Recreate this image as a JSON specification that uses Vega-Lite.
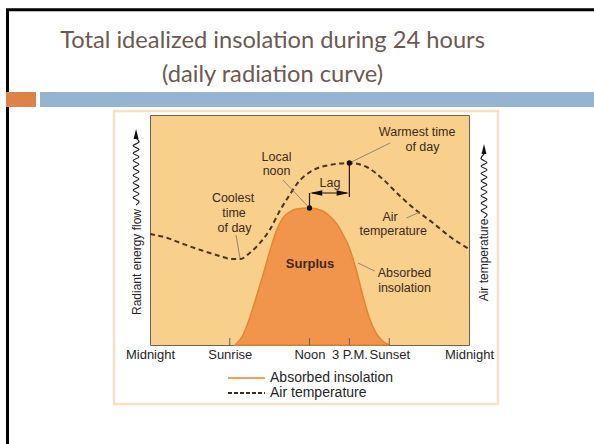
{
  "$schema": "https://vega.github.io/schema/vega-lite/v6.json",
  "width": 319,
  "height": 230,
  "autosize": "none",
  "padding": {"left": 150, "top": 115, "right": 125, "bottom": 99},
  "background": "white",
  "config": {
    "view": {"fill": "#f9cf8c", "stroke": "#6e6050", "strokeWidth": 1},
    "text": {"font": "Liberation Sans"}
  },
  "datasets": {
    "temperature": [
      {"hour": 0, "value": 111}, {"hour": 1.3, "value": 107}, {"hour": 2.5, "value": 101},
      {"hour": 3.8, "value": 95}, {"hour": 5.0, "value": 90}, {"hour": 6.2, "value": 86},
      {"hour": 6.8, "value": 86}, {"hour": 7.5, "value": 92}, {"hour": 8.2, "value": 101},
      {"hour": 9.0, "value": 115}, {"hour": 9.8, "value": 135}, {"hour": 10.5, "value": 150},
      {"hour": 11.05, "value": 161}, {"hour": 12.3, "value": 175}, {"hour": 13.5, "value": 180},
      {"hour": 15, "value": 182}, {"hour": 16.3, "value": 178}, {"hour": 17.5, "value": 166},
      {"hour": 18.8, "value": 149}, {"hour": 20, "value": 135}, {"hour": 21.3, "value": 122},
      {"hour": 22.6, "value": 108}, {"hour": 24, "value": 96}
    ],
    "insolation": [
      {"hour": 6.4, "value": 0}, {"hour": 7.0, "value": 10}, {"hour": 7.5, "value": 27},
      {"hour": 8.0, "value": 48}, {"hour": 8.5, "value": 70}, {"hour": 9.0, "value": 93},
      {"hour": 9.5, "value": 114}, {"hour": 10.0, "value": 127}, {"hour": 10.5, "value": 133},
      {"hour": 11.0, "value": 136}, {"hour": 12.0, "value": 137}, {"hour": 13.0, "value": 134},
      {"hour": 13.5, "value": 129}, {"hour": 14.0, "value": 122}, {"hour": 14.5, "value": 111},
      {"hour": 15.0, "value": 97}, {"hour": 15.5, "value": 76}, {"hour": 16.0, "value": 50},
      {"hour": 16.5, "value": 27}, {"hour": 17.0, "value": 12}, {"hour": 17.5, "value": 4},
      {"hour": 18.0, "value": 0}
    ],
    "frame": [
      {"hour": -10.72, "hour2": -10.72, "value": 335.3, "value2": -120},
      {"hour": -10.83, "hour2": 36, "value": 335.3, "value2": 335.3}
    ],
    "orangeBar": [{"hour": -10.835, "hour2": -8.578, "value": 238, "value2": 253}],
    "blueBar": [{"hour": -8.277, "hour2": 36, "value": 238, "value2": 253}],
    "figureBox": [{"hour": -2.71, "hour2": 26.18, "value": 234, "value2": -59}],
    "ticks": [
      {"hour": 6, "value": 0, "value2": 7}, {"hour": 12, "value": 0, "value2": 7},
      {"hour": 15, "value": 0, "value2": 7}, {"hour": 18, "value": 0, "value2": 7}
    ],
    "leaders": [
      {"hour": 15, "value": 182, "hour2": 18.06, "value2": 202},
      {"hour": 10.0, "value": 165, "hour2": 12, "value2": 137},
      {"hour": 6.47, "value": 110, "hour2": 6.77, "value2": 87},
      {"hour": 19.3, "value": 127, "hour2": 20.3, "value2": 133},
      {"hour": 15.65, "value": 82, "hour2": 16.9, "value2": 74}
    ],
    "lagLines": [
      {"hour": 12, "value": 137, "hour2": 12, "value2": 152},
      {"hour": 15, "value": 182, "hour2": 15, "value2": 148},
      {"hour": 12.2, "value": 152, "hour2": 14.8, "value2": 152}
    ],
    "lagLeft": [{"hour": 12.5, "value": 152}],
    "lagRight": [{"hour": 14.5, "value": 152}],
    "dots": [{"hour": 12, "value": 137}, {"hour": 15, "value": 182}],
    "waves": [
      {"side": "left", "hour": -1.05, "value": 140}, {"side": "left", "hour": -0.83, "value": 143.7},
      {"side": "left", "hour": -1.27, "value": 147.4}, {"side": "left", "hour": -0.83, "value": 151.1},
      {"side": "left", "hour": -1.27, "value": 154.8}, {"side": "left", "hour": -0.83, "value": 158.5},
      {"side": "left", "hour": -1.27, "value": 162.2}, {"side": "left", "hour": -0.83, "value": 165.9},
      {"side": "left", "hour": -1.27, "value": 169.6}, {"side": "left", "hour": -0.83, "value": 173.3},
      {"side": "left", "hour": -1.27, "value": 177}, {"side": "left", "hour": -0.83, "value": 180.7},
      {"side": "left", "hour": -1.27, "value": 184.4}, {"side": "left", "hour": -0.83, "value": 188.1},
      {"side": "left", "hour": -1.27, "value": 191.8}, {"side": "left", "hour": -0.83, "value": 195.5},
      {"side": "left", "hour": -1.27, "value": 199.2}, {"side": "left", "hour": -0.83, "value": 202.9},
      {"side": "left", "hour": -1.05, "value": 207},
      {"side": "right", "hour": 25.13, "value": 127}, {"side": "right", "hour": 25.35, "value": 130.7},
      {"side": "right", "hour": 24.91, "value": 134.4}, {"side": "right", "hour": 25.35, "value": 138.1},
      {"side": "right", "hour": 24.91, "value": 141.8}, {"side": "right", "hour": 25.35, "value": 145.5},
      {"side": "right", "hour": 24.91, "value": 149.2}, {"side": "right", "hour": 25.35, "value": 152.9},
      {"side": "right", "hour": 24.91, "value": 156.6}, {"side": "right", "hour": 25.35, "value": 160.3},
      {"side": "right", "hour": 24.91, "value": 164}, {"side": "right", "hour": 25.35, "value": 167.7},
      {"side": "right", "hour": 24.91, "value": 171.4}, {"side": "right", "hour": 25.35, "value": 175.1},
      {"side": "right", "hour": 24.91, "value": 178.8}, {"side": "right", "hour": 25.35, "value": 182.5},
      {"side": "right", "hour": 24.91, "value": 186.2}, {"side": "right", "hour": 25.13, "value": 191}
    ],
    "waveHeads": [{"hour": -1.05, "value": 211}, {"hour": 25.13, "value": 196}],
    "notes": [
      {"text": "Warmest time", "hour": 20.1, "value": 213},
      {"text": "of day", "hour": 20.5, "value": 198},
      {"text": "Local", "hour": 9.52, "value": 188.5},
      {"text": "noon", "hour": 9.52, "value": 174.5},
      {"text": "Lag", "hour": 13.54, "value": 162},
      {"text": "Coolest", "hour": 6.25, "value": 147},
      {"text": "time", "hour": 6.32, "value": 132},
      {"text": "of day", "hour": 6.36, "value": 117},
      {"text": "Air", "hour": 18.06, "value": 128.5},
      {"text": "temperature", "hour": 18.3, "value": 114.5},
      {"text": "Absorbed", "hour": 19.15, "value": 72},
      {"text": "insolation", "hour": 19.15, "value": 57}
    ],
    "surplus": [{"text": "Surplus", "hour": 12.04, "value": 81}],
    "axisTitles": [
      {"text": "Radiant energy flow", "hour": -0.98, "value": 83},
      {"text": "Air temperature", "hour": 25.13, "value": 85}
    ],
    "legendInsolation": [{"hour": 5.87, "hour2": 8.65, "value": -33, "value2": -33}],
    "legendTemperature": [{"hour": 5.87, "hour2": 8.65, "value": -48, "value2": -48}],
    "legendLabels": [
      {"text": "Absorbed insolation", "hour": 9.03, "value": -33},
      {"text": "Air temperature", "hour": 9.03, "value": -48}
    ],
    "slideTitle": [
      {"text": "Total idealized insolation during 24 hours", "hour": 9.22, "value": 297},
      {"text": "(daily radiation curve)", "hour": 9.22, "value": 263}
    ]
  },
  "encoding": {
    "x": {
      "field": "hour", "type": "quantitative",
      "scale": {"domain": [0, 24], "nice": false, "zero": false},
      "axis": {
        "values": [0, 6, 12, 15, 18, 24],
        "labelExpr": "datum.value == 6 ? 'Sunrise' : datum.value == 12 ? 'Noon' : datum.value == 15 ? '3 P.M.' : datum.value == 18 ? 'Sunset' : 'Midnight'",
        "title": null, "ticks": false, "domain": false, "grid": false,
        "labelFont": "Liberation Sans", "labelFontSize": 13, "labelColor": "#262626",
        "labelPadding": 3, "labelOverlap": false, "labelFlush": false
      }
    },
    "y": {
      "field": "value", "type": "quantitative",
      "scale": {"domain": [0, 230], "nice": false, "zero": false},
      "axis": null
    }
  },
  "layer": [
    {
      "data": {"name": "frame"},
      "mark": {"type": "rule", "color": "#000000", "strokeWidth": 3},
      "encoding": {"x2": {"field": "hour2"}, "y2": {"field": "value2"}}
    },
    {
      "data": {"name": "orangeBar"},
      "mark": {"type": "rect", "color": "#de8347"},
      "encoding": {"x2": {"field": "hour2"}, "y2": {"field": "value2"}}
    },
    {
      "data": {"name": "blueBar"},
      "mark": {"type": "rect", "color": "#94b4d1"},
      "encoding": {"x2": {"field": "hour2"}, "y2": {"field": "value2"}}
    },
    {
      "data": {"name": "figureBox"},
      "mark": {"type": "rect", "fill": null, "filled": false, "stroke": "#f3e3c4", "strokeWidth": 2.5},
      "encoding": {"x2": {"field": "hour2"}, "y2": {"field": "value2"}}
    },
    {
      "data": {"name": "slideTitle"},
      "mark": {"type": "text", "font": "Lato", "fontSize": 23.7, "color": "#6b5a52", "align": "center", "baseline": "alphabetic"},
      "encoding": {"text": {"field": "text"}}
    },
    {
      "data": {"name": "insolation"},
      "mark": {"type": "area", "interpolate": "monotone", "fill": "#f0954b", "stroke": "#e2862f", "strokeWidth": 1.5}
    },
    {
      "data": {"name": "ticks"},
      "mark": {"type": "rule", "color": "#6e6050", "strokeWidth": 1},
      "encoding": {"y2": {"field": "value2"}}
    },
    {
      "data": {"name": "temperature"},
      "mark": {"type": "line", "interpolate": "monotone", "stroke": "#4a3424", "strokeWidth": 2, "strokeDash": [5, 3.5]}
    },
    {
      "data": {"name": "leaders"},
      "mark": {"type": "rule", "color": "#8a7d70", "strokeWidth": 0.9},
      "encoding": {"x2": {"field": "hour2"}, "y2": {"field": "value2"}}
    },
    {
      "data": {"name": "lagLines"},
      "mark": {"type": "rule", "color": "#1e1a16", "strokeWidth": 1.2},
      "encoding": {"x2": {"field": "hour2"}, "y2": {"field": "value2"}}
    },
    {
      "data": {"name": "lagLeft"},
      "mark": {"type": "point", "shape": "M-1,0L1,-0.45L1,0.45Z", "size": 150, "filled": true, "color": "#111111", "opacity": 1}
    },
    {
      "data": {"name": "lagRight"},
      "mark": {"type": "point", "shape": "M1,0L-1,-0.45L-1,0.45Z", "size": 150, "filled": true, "color": "#111111", "opacity": 1}
    },
    {
      "data": {"name": "dots"},
      "mark": {"type": "point", "shape": "circle", "size": 28, "filled": true, "color": "#111111", "opacity": 1}
    },
    {
      "data": {"name": "waves"},
      "mark": {"type": "line", "interpolate": "cardinal", "stroke": "#222222", "strokeWidth": 1.2},
      "encoding": {"detail": {"field": "side"}, "order": {"field": "value"}}
    },
    {
      "data": {"name": "waveHeads"},
      "mark": {"type": "point", "shape": "M0,-1L0.5,1L-0.5,1Z", "size": 100, "filled": true, "color": "#111111", "opacity": 1}
    },
    {
      "data": {"name": "notes"},
      "mark": {"type": "text", "fontSize": 12.5, "color": "#3b2a1d", "align": "center", "baseline": "middle"},
      "encoding": {"text": {"field": "text"}}
    },
    {
      "data": {"name": "surplus"},
      "mark": {"type": "text", "fontSize": 13, "fontWeight": "bold", "color": "#3b2a1d", "align": "center", "baseline": "middle"},
      "encoding": {"text": {"field": "text"}}
    },
    {
      "data": {"name": "axisTitles"},
      "mark": {"type": "text", "fontSize": 12, "color": "#262626", "align": "center", "baseline": "middle", "angle": 270},
      "encoding": {"text": {"field": "text"}}
    },
    {
      "data": {"name": "legendInsolation"},
      "mark": {"type": "rule", "color": "#f2a352", "strokeWidth": 2},
      "encoding": {"x2": {"field": "hour2"}, "y2": {"field": "value2"}}
    },
    {
      "data": {"name": "legendTemperature"},
      "mark": {"type": "rule", "color": "#3b2a22", "strokeWidth": 2, "strokeDash": [4, 2]},
      "encoding": {"x2": {"field": "hour2"}, "y2": {"field": "value2"}}
    },
    {
      "data": {"name": "legendLabels"},
      "mark": {"type": "text", "fontSize": 14, "color": "#262626", "align": "left", "baseline": "middle"},
      "encoding": {"text": {"field": "text"}}
    }
  ]
}
